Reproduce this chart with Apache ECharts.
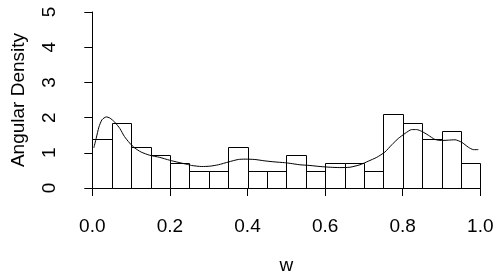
<!DOCTYPE html>
<html>
<head>
<meta charset="utf-8">
<script src="https://cdn.jsdelivr.net/npm/echarts@6/dist/echarts.min.js"></script>
<style>html,body{margin:0;padding:0;background:#fff}#c{width:500px;height:280px}</style>
</head>
<body>
<div id="c"></div>
<script>
// Histogram bin edges (w)
var binEdges = [0,0.05,0.1,0.15,0.2,0.25,0.3,0.35,0.4,0.45,0.5,0.55,0.6,0.65,0.7,0.75,0.8,0.85,0.9,0.95,1.0];
// Histogram densities per bin
var binDensity = [1.40,1.86,1.16,0.93,0.70,0.47,0.47,1.16,0.47,0.47,0.93,0.47,0.70,0.70,0.47,2.09,1.86,1.40,1.63,0.70];
// Density curve
var curveW = [0.004,0.010,0.017,0.025,0.036,0.045,0.058,0.071,0.083,0.096,0.109,0.126,0.148,0.174,0.199,0.221,0.245,0.256,0.282,0.303,0.325,0.351,0.376,0.394,0.419,0.445,0.471,0.495,0.510,0.535,0.561,0.587,0.613,0.638,0.664,0.690,0.711,0.733,0.754,0.772,0.789,0.806,0.823,0.836,0.849,0.866,0.883,0.900,0.918,0.935,0.952,0.969,0.982,0.995];
var curveD = [1.14,1.41,1.73,1.94,2.02,1.99,1.87,1.69,1.46,1.28,1.14,1.02,0.93,0.87,0.79,0.73,0.67,0.64,0.61,0.62,0.66,0.74,0.81,0.82,0.81,0.77,0.74,0.72,0.70,0.66,0.64,0.61,0.59,0.58,0.59,0.66,0.76,0.87,1.02,1.23,1.41,1.55,1.66,1.66,1.61,1.50,1.38,1.35,1.36,1.37,1.30,1.16,1.09,1.09];
// Tick labels
var xTicks = ['0.0','0.2','0.4','0.6','0.8','1.0'];
var yTicks = ['0','1','2','3','4','5'];

var histData = binDensity.map(function(d,i){ return [binEdges[i], binEdges[i+1], d]; });
var curveData = curveW.map(function(w,i){ return [w, curveD[i]]; });

var FONT = 'Liberation Sans, Arial, sans-serif';
var FS = 19;
var chart = echarts.init(document.getElementById('c'), null, {renderer:'canvas'});
chart.setOption({
  animation: false,
  backgroundColor: '#fff',
  grid: {left: 92.3, right: 19.7, top: 12, bottom: 85, containLabel: false},
  xAxis: {
    type: 'value', min: 0, max: 1, interval: 0.2,
    offset: 9,
    name: 'w', nameLocation: 'middle', nameGap: 59,
    nameTextStyle: {color: '#000', fontSize: FS, fontFamily: FONT},
    axisLine: {show: true, lineStyle: {color: '#000', width: 1}},
    axisTick: {show: true, length: 8, lineStyle: {color: '#000', width: 1}},
    axisLabel: {color: '#000', fontSize: FS, fontFamily: FONT, margin: 20,
      formatter: function(v){ return xTicks[Math.round(v/0.2)]; }},
    splitLine: {show: false}
  },
  yAxis: {
    type: 'value', min: 0, max: 5, interval: 1,
    offset: 16,
    name: 'Angular Density', nameLocation: 'middle', nameGap: 48, nameRotate: 90,
    nameTextStyle: {color: '#000', fontSize: FS, fontFamily: FONT},
    axisLine: {show: true, lineStyle: {color: '#000', width: 1}},
    axisTick: {show: true, length: 8, lineStyle: {color: '#000', width: 1}},
    axisLabel: {color: '#000', fontSize: FS, fontFamily: FONT, margin: 17, rotate: 90,
      formatter: function(v){ return yTicks[Math.round(v)]; }},
    splitLine: {show: false}
  },
  series: [
    {
      type: 'custom',
      data: histData,
      renderItem: function(params, api){
        var p0 = api.coord([api.value(0), api.value(2)]);
        var p1 = api.coord([api.value(1), 0]);
        var x0 = Math.round(p0[0]) + 0.5, x1 = Math.round(p1[0]) + 0.5;
        var y0 = Math.round(p0[1]) + 0.5, y1 = Math.round(p1[1]) + 0.5;
        return {
          type: 'rect',
          shape: {x: x0, y: y0, width: x1 - x0, height: y1 - y0},
          style: {fill: '#fff', stroke: '#000', lineWidth: 1}
        };
      },
      encode: {x: [0,1], y: 2},
      z: 2
    },
    {
      type: 'line',
      data: curveData,
      showSymbol: false,
      smooth: 0.2,
      lineStyle: {color: '#000', width: 1},
      z: 3
    }
  ]
});
</script>
</body>
</html>
